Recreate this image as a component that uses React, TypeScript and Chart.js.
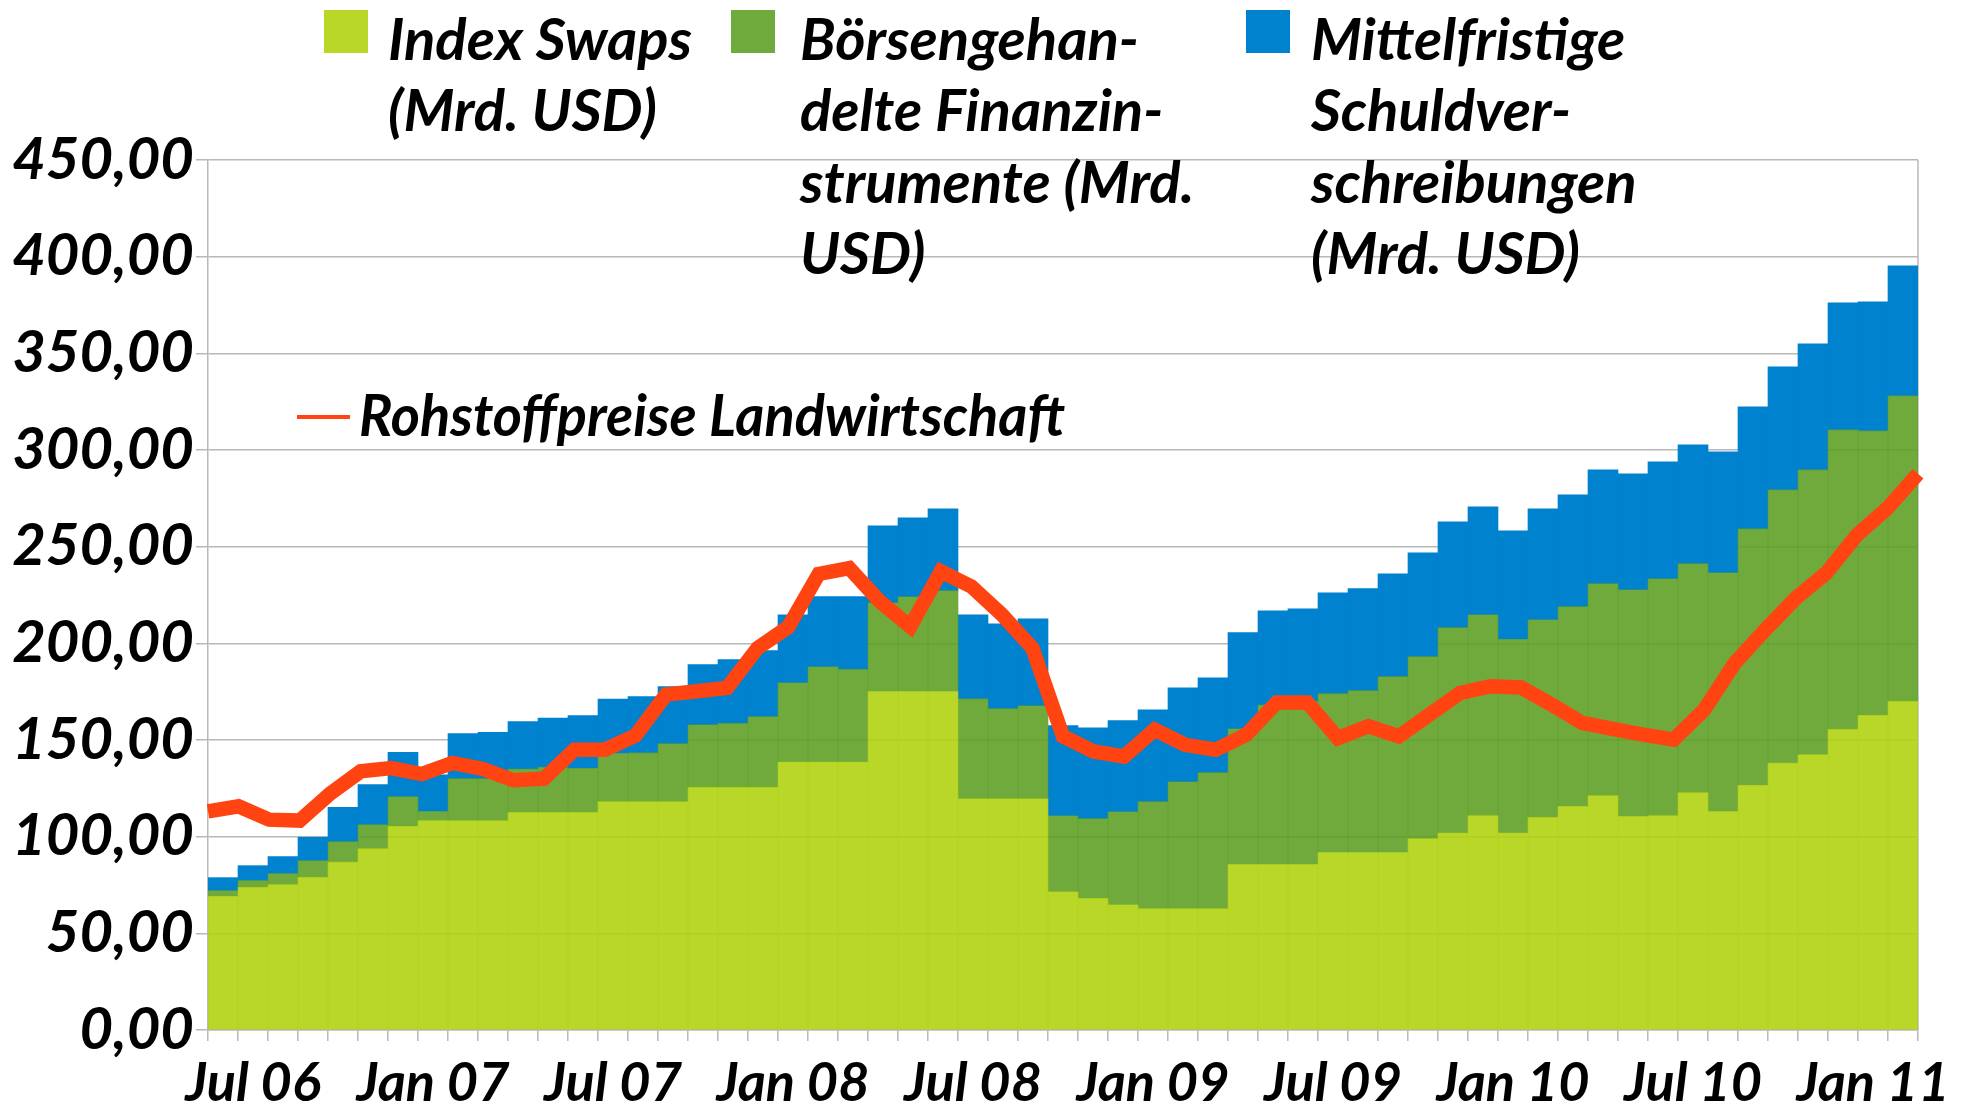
import React, { useEffect, useRef } from 'react';
import { Chart, registerables } from 'chart.js';

Chart.register(...registerables);

// ---------- data ----------
const categories = [
  'Jun 06', 'Jul 06', 'Aug 06', 'Sep 06', 'Okt 06', 'Nov 06', 'Dez 06',
  'Jan 07', 'Feb 07', 'Mär 07', 'Apr 07', 'Mai 07', 'Jun 07', 'Jul 07', 'Aug 07', 'Sep 07', 'Okt 07', 'Nov 07', 'Dez 07',
  'Jan 08', 'Feb 08', 'Mär 08', 'Apr 08', 'Mai 08', 'Jun 08', 'Jul 08', 'Aug 08', 'Sep 08', 'Okt 08', 'Nov 08', 'Dez 08',
  'Jan 09', 'Feb 09', 'Mär 09', 'Apr 09', 'Mai 09', 'Jun 09', 'Jul 09', 'Aug 09', 'Sep 09', 'Okt 09', 'Nov 09', 'Dez 09',
  'Jan 10', 'Feb 10', 'Mär 10', 'Apr 10', 'Mai 10', 'Jun 10', 'Jul 10', 'Aug 10', 'Sep 10', 'Okt 10', 'Nov 10', 'Dez 10',
  'Jan 11', 'Feb 11',
];

const indexSwaps = [
  69.2, 73.8, 75.2, 79.0, 86.8, 93.8, 105.4, 108.3, 108.3, 108.3,
  112.6, 112.6, 112.6, 118.1, 118.1, 118.1, 125.5, 125.5, 125.5, 138.6,
  138.6, 138.6, 175.1, 175.1, 175.1, 119.6, 119.6, 119.6, 71.5, 68.1,
  64.8, 62.8, 62.8, 62.8, 85.7, 85.7, 85.7, 91.8, 91.8, 91.8,
  99.0, 101.9, 110.9, 101.9, 110.0, 115.7, 121.2, 110.5, 110.9, 122.8,
  113.0, 126.6, 138.0, 142.4, 155.5, 162.8, 170.0,
];

const exchangeTraded = [
  2.9, 3.5, 5.7, 8.6, 10.6, 12.4, 15.3, 4.7, 21.7, 21.7,
  22.4, 23.3, 22.8, 24.9, 25.2, 30.0, 32.4, 33.1, 36.6, 41.0,
  49.3, 47.9, 45.9, 49.0, 52.2, 51.7, 46.6, 48.1, 39.3, 41.2,
  48.1, 55.3, 65.6, 70.3, 70.1, 82.3, 84.3, 82.2, 83.7, 91.0,
  94.1, 106.2, 103.9, 100.2, 102.2, 103.3, 109.7, 117.2, 122.5, 118.4,
  123.5, 132.6, 141.4, 147.3, 154.9, 147.1, 158.0,
];

const mediumTermNotes = [
  6.7, 7.7, 8.8, 12.1, 17.8, 20.7, 22.9, 19.0, 23.3, 24.0,
  24.5, 25.5, 27.2, 28.2, 29.1, 29.5, 31.1, 33.0, 34.1, 35.1,
  36.3, 37.7, 39.8, 40.8, 42.3, 43.5, 43.9, 45.0, 46.6, 47.0,
  47.2, 47.5, 48.6, 49.1, 49.7, 48.8, 47.9, 52.1, 52.8, 53.2,
  53.7, 54.8, 55.8, 56.1, 57.4, 57.8, 58.8, 60.0, 60.5, 61.5,
  62.6, 63.1, 63.6, 65.2, 65.7, 66.7, 67.2,
];

const agriPrices = [
  113.1, 115.7, 108.8, 108.3, 122.3, 133.8, 135.5, 132.4, 138.1, 135.0,
  129.2, 130.0, 145.0, 145.0, 152.3, 173.5, 175.2, 176.9, 197.6, 208.4,
  235.9, 238.9, 221.7, 208.7, 237.2, 229.4, 214.8, 197.5, 151.9, 144.1,
  141.5, 155.3, 147.5, 145.0, 152.7, 169.4, 169.4, 151.0, 157.1, 151.9,
  163.1, 174.3, 177.8, 177.2, 168.3, 158.8, 155.7, 152.8, 150.2, 165.7,
  189.8, 207.1, 223.4, 236.4, 256.0, 269.9, 287.7,
];

const legendIndexSwaps = ['Index Swaps', '(Mrd. USD)'];
const legendExchangeTraded = ['Börsengehan-', 'delte Finanzin-', 'strumente (Mrd.', 'USD)'];
const legendNotes = ['Mittelfristige', 'Schuldver-', 'schreibungen', '(Mrd. USD)'];
const legendLine = 'Rohstoffpreise Landwirtschaft';

// ---------- styles ----------
const C_LIGHT = '#b9d727';
const C_DARK = '#6faa3c';
const C_LIGHT_FILL = 'rgba(175, 209, 10, 0.88)';
const C_DARK_FILL = 'rgba(92, 158, 34, 0.88)';
const C_BLUE = '#0082ce';
const C_LINE = '#ff4411';
const C_GRID = '#b8b8b8';
const FONT_FAMILY = 'Lato';
const FONT_SIZE = 58;
const CANVAS_FONT = `italic bold ${FONT_SIZE}px ${FONT_FAMILY}`;

export default function App() {
  const ref = useRef<HTMLCanvasElement | null>(null);

  useEffect(() => {
    document.body.style.margin = '0';
    const canvas = ref.current;
    if (!canvas) return;

    const frame = {
      id: 'frameAndLegend',
      beforeDatasetsDraw(chart: any) {
        const { ctx, chartArea } = chart;
        ctx.save();
        ctx.strokeStyle = C_GRID;
        ctx.lineWidth = 1.5;
        ctx.beginPath();
        ctx.moveTo(chartArea.right, chartArea.top);
        ctx.lineTo(chartArea.right, chartArea.bottom);
        ctx.stroke();
        ctx.restore();
      },
      afterDraw(chart: any) {
        const { ctx } = chart;
        ctx.save();
        ctx.font = CANVAS_FONT;
        ctx.textBaseline = 'middle';
        ctx.textAlign = 'left';
        const lineGap = 71.5;
        const firstY = 41;
        const block = (color: string, sx: number, tx: number, lines: string[]) => {
          ctx.fillStyle = color;
          ctx.fillRect(sx, 10, 44, 43);
          ctx.fillStyle = '#000';
          lines.forEach((t, i) => ctx.fillText(t, tx, firstY + i * lineGap));
        };
        block(C_LIGHT, 324, 388, legendIndexSwaps);
        block(C_DARK, 731, 800, legendExchangeTraded);
        block(C_BLUE, 1246, 1311, legendNotes);
        ctx.strokeStyle = C_LINE;
        ctx.lineWidth = 4;
        ctx.beginPath();
        ctx.moveTo(297, 417);
        ctx.lineTo(350, 417);
        ctx.stroke();
        ctx.fillStyle = '#000';
        ctx.fillText(legendLine, 359, 417, 706);
        ctx.restore();
      },
    };

    const font = { family: FONT_FAMILY, size: FONT_SIZE, weight: 'bold' as const, style: 'italic' as const };
    const xFont = { ...font, size: 54 };

    const barBase = {
      borderWidth: 0,
      barPercentage: 1,
      categoryPercentage: 1,
      grouped: false,
      xAxisID: 'x',
    };

    const chart = new Chart(canvas, {
      type: 'bar',
      data: {
        labels: categories,
        datasets: [
          {
            type: 'line' as const,
            label: legendLine,
            data: agriPrices,
            xAxisID: 'x2',
            borderColor: C_LINE,
            backgroundColor: C_LINE,
            borderWidth: 14.5,
            pointRadius: 0,
            tension: 0,
            borderJoinStyle: 'miter' as const,
            order: 0,
          } as any,
          { ...barBase, label: legendIndexSwaps.join(' '), data: indexSwaps, backgroundColor: C_LIGHT_FILL, order: 1 },
          { ...barBase, label: legendExchangeTraded.join(''), data: exchangeTraded, backgroundColor: C_DARK_FILL, order: 1 },
          { ...barBase, label: legendNotes.join(''), data: mediumTermNotes, backgroundColor: C_BLUE, order: 1 },
        ],
      },
      options: {
        responsive: false,
        animation: false,
        layout: { padding: { top: 160, right: 45, left: 0, bottom: 0 } },
        plugins: {
          legend: { display: false },
          tooltip: { enabled: false },
        },
        scales: {
          x: {
            stacked: true,
            offset: true,
            grid: {
              offset: true,
              drawOnChartArea: false,
              drawTicks: true,
              tickLength: 11,
              color: C_GRID,
              lineWidth: 1.5,
            },
            border: { color: C_GRID, width: 1.5 },
            ticks: {
              autoSkip: false,
              maxRotation: 0,
              minRotation: 0,
              padding: 10,
              color: '#000',
              font: xFont,
              callback: (_v: any, i: number) => {
                const l = categories[i];
                return l.startsWith('Jan') || l.startsWith('Jul') ? l : '';
              },
            },
            afterFit: (s: any) => {
              s.height = 75;
            },
          },
          x2: {
            type: 'category',
            labels: categories,
            offset: false,
            display: false,
          },
          y: {
            stacked: true,
            min: 0,
            max: 450,
            grid: { color: C_GRID, lineWidth: 1.5, tickLength: 12 },
            border: { color: C_GRID, width: 1.5 },
            ticks: {
              stepSize: 50,
              padding: 2,
              color: '#000',
              font,
              callback: (v: any) => Number(v).toFixed(2).replace('.', ','),
            },
            afterFit: (s: any) => {
              s.width = 208;
            },
          },
        },
      } as any,
      plugins: [frame],
    });

    return () => chart.destroy();
  }, []);

  return <canvas ref={ref} width={1963} height={1105} style={{ display: 'block', background: '#fff' }} />;
}
